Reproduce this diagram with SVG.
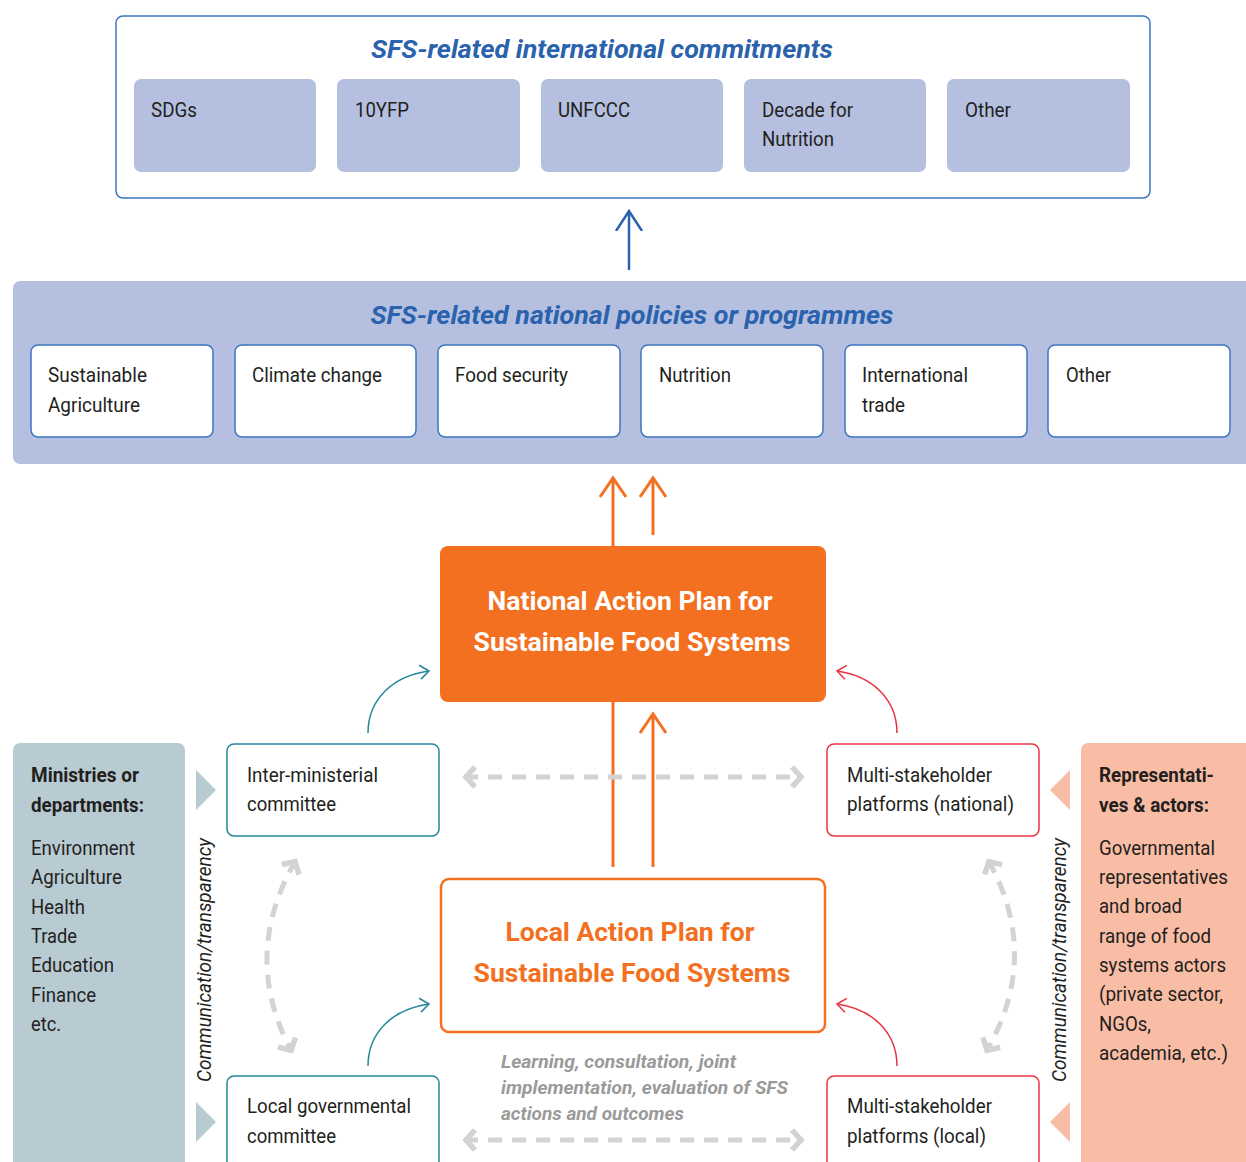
<svg xmlns="http://www.w3.org/2000/svg" width="1246" height="1162" viewBox="0 0 1246 1162">
<style>
.t{font-family:"Roboto","Liberation Sans",sans-serif;font-size:21px;fill:#231f20}
.tb{font-family:"Roboto","Liberation Sans",sans-serif;font-size:21px;font-weight:700;fill:#231f20}
.ttl{font-family:"Roboto","Liberation Sans",sans-serif;font-size:26px;font-weight:700;font-style:italic;fill:#2a62ad}
.big{font-family:"Roboto","Liberation Sans",sans-serif;font-size:26px;font-weight:700}
.vert{font-family:"Roboto","Liberation Sans",sans-serif;font-size:20px;font-style:italic;fill:#231f20}
.note{font-family:"Roboto","Liberation Sans",sans-serif;font-size:19px;font-weight:700;font-style:italic;fill:#9a9a9a}
.lil{fill:#b5c0e0}
.wbox{fill:#fff;stroke:#3d74c0;stroke-width:1.5}
.teal{fill:#fff;stroke:#23879a;stroke-width:1.5}
.red{fill:#fff;stroke:#e8333f;stroke-width:1.5}
.dash{fill:none;stroke:#d3d3d3;stroke-width:5;stroke-dasharray:14 10}
</style>
<defs>
<marker id="ab" markerUnits="userSpaceOnUse" markerWidth="40" markerHeight="40" viewBox="-20 -20 40 40" refX="0" refY="0" orient="auto"><path d="M-20,-13 L0,0 L-20,13" fill="none" stroke="#2a62ad" stroke-width="2.5"/></marker>
<marker id="ao" markerUnits="userSpaceOnUse" markerWidth="40" markerHeight="40" viewBox="-20 -20 40 40" refX="0" refY="0" orient="auto"><path d="M-19,-13 L0,0 L-19,13" fill="none" stroke="#f37021" stroke-width="3"/></marker>
<marker id="at" markerUnits="userSpaceOnUse" markerWidth="24" markerHeight="24" viewBox="-12 -12 24 24" refX="0" refY="0" orient="auto"><path d="M-9,-7 L0,0 L-9,7" fill="none" stroke="#23879a" stroke-width="1.5"/></marker>
<marker id="ar" markerUnits="userSpaceOnUse" markerWidth="24" markerHeight="24" viewBox="-12 -12 24 24" refX="0" refY="0" orient="auto"><path d="M-9,-7 L0,0 L-9,7" fill="none" stroke="#e8333f" stroke-width="1.5"/></marker>
<marker id="ag" markerUnits="userSpaceOnUse" markerWidth="30" markerHeight="30" viewBox="-15 -15 30 30" refX="0" refY="0" orient="auto-start-reverse"><path d="M-11,-10 L-2,0 L-11,10" fill="none" stroke="#d3d3d3" stroke-width="5.5"/></marker>
</defs>

<g id="international">
<rect x="116" y="16" width="1034" height="182" rx="7" fill="#fff" stroke="#3d74c0" stroke-width="1.5"/>
<text class="ttl" x="602" y="58" text-anchor="middle" textLength="462" lengthAdjust="spacingAndGlyphs">SFS-related international commitments</text>
</g>
<g id="sdgs"><rect class="lil" x="134" y="79" width="182" height="93" rx="7"/><text class="t" x="151" y="117" textLength="46" lengthAdjust="spacingAndGlyphs">SDGs</text></g>
<g id="yfp"><rect class="lil" x="337" y="79" width="183" height="93" rx="7"/><text class="t" x="355" y="117" textLength="54" lengthAdjust="spacingAndGlyphs">10YFP</text></g>
<g id="unfccc"><rect class="lil" x="541" y="79" width="182" height="93" rx="7"/><text class="t" x="558" y="117" textLength="72" lengthAdjust="spacingAndGlyphs">UNFCCC</text></g>
<g id="decade"><rect class="lil" x="744" y="79" width="182" height="93" rx="7"/><text class="t" x="762" y="117" textLength="91" lengthAdjust="spacingAndGlyphs">Decade for</text><text class="t" x="762" y="146" textLength="72" lengthAdjust="spacingAndGlyphs">Nutrition</text></g>
<g id="other1"><rect class="lil" x="947" y="79" width="183" height="93" rx="7"/><text class="t" x="965" y="117" textLength="46" lengthAdjust="spacingAndGlyphs">Other</text></g>

<g id="national">
<rect class="lil" x="13" y="281" width="1250" height="183" rx="7"/>
<text class="ttl" x="632" y="324" text-anchor="middle" textLength="523" lengthAdjust="spacingAndGlyphs">SFS-related national policies or programmes</text>
</g>
<g id="sustag"><rect class="wbox" x="31" y="345" width="182" height="92" rx="7"/><text class="t" x="48" y="382" textLength="99" lengthAdjust="spacingAndGlyphs">Sustainable</text><text class="t" x="48" y="412" textLength="92" lengthAdjust="spacingAndGlyphs">Agriculture</text></g>
<g id="climate"><rect class="wbox" x="235" y="345" width="181" height="92" rx="7"/><text class="t" x="252" y="382" textLength="130" lengthAdjust="spacingAndGlyphs">Climate change</text></g>
<g id="foodsec"><rect class="wbox" x="438" y="345" width="182" height="92" rx="7"/><text class="t" x="455" y="382" textLength="113" lengthAdjust="spacingAndGlyphs">Food security</text></g>
<g id="nutrition"><rect class="wbox" x="641" y="345" width="182" height="92" rx="7"/><text class="t" x="659" y="382" textLength="72" lengthAdjust="spacingAndGlyphs">Nutrition</text></g>
<g id="trade"><rect class="wbox" x="845" y="345" width="182" height="92" rx="7"/><text class="t" x="862" y="382" textLength="106" lengthAdjust="spacingAndGlyphs">International</text><text class="t" x="862" y="412" textLength="43" lengthAdjust="spacingAndGlyphs">trade</text></g>
<g id="other2"><rect class="wbox" x="1048" y="345" width="182" height="92" rx="7"/><text class="t" x="1066" y="382" textLength="45" lengthAdjust="spacingAndGlyphs">Other</text></g>

<g id="nap">
<rect x="440" y="546" width="386" height="156" rx="8" fill="#f37021"/>
<text class="big" x="630" y="610" text-anchor="middle" fill="#fff" textLength="285" lengthAdjust="spacingAndGlyphs">National Action Plan for</text>
<text class="big" x="632" y="651" text-anchor="middle" fill="#fff" textLength="317" lengthAdjust="spacingAndGlyphs">Sustainable Food Systems</text>
</g>

<g id="lap">
<rect x="441" y="879" width="384" height="153" rx="8" fill="#fff" stroke="#f37021" stroke-width="2.5"/>
<text class="big" x="630" y="941" text-anchor="middle" fill="#f37021" textLength="249" lengthAdjust="spacingAndGlyphs">Local Action Plan for</text>
<text class="big" x="632" y="982" text-anchor="middle" fill="#f37021" textLength="317" lengthAdjust="spacingAndGlyphs">Sustainable Food Systems</text>
</g>

<g id="ministries">
<rect x="13" y="743" width="172" height="440" rx="7" fill="#b8cbd3"/>
<text class="tb" x="31" y="782" textLength="108" lengthAdjust="spacingAndGlyphs">Ministries or</text>
<text class="tb" x="31" y="812" textLength="113" lengthAdjust="spacingAndGlyphs">departments:</text>
<text class="t" x="31" y="855" textLength="104" lengthAdjust="spacingAndGlyphs">Environment</text>
<text class="t" x="31" y="884" textLength="91" lengthAdjust="spacingAndGlyphs">Agriculture</text>
<text class="t" x="31" y="914" textLength="54" lengthAdjust="spacingAndGlyphs">Health</text>
<text class="t" x="31" y="943" textLength="46" lengthAdjust="spacingAndGlyphs">Trade</text>
<text class="t" x="31" y="972" textLength="83" lengthAdjust="spacingAndGlyphs">Education</text>
<text class="t" x="31" y="1002" textLength="65" lengthAdjust="spacingAndGlyphs">Finance</text>
<text class="t" x="31" y="1031" textLength="30" lengthAdjust="spacingAndGlyphs">etc.</text>
<polygon points="196,770 216,790 196,810" fill="#b8cbd3"/>
<polygon points="196,1102 216,1122 196,1142" fill="#b8cbd3"/>
<text class="vert" transform="translate(211,960) rotate(-90)" text-anchor="middle" textLength="244" lengthAdjust="spacingAndGlyphs">Communication/transparency</text>
</g>

<g id="representatives">
<rect x="1081" y="743" width="180" height="440" rx="7" fill="#f9bda5"/>
<text class="tb" x="1099" y="782" textLength="115" lengthAdjust="spacingAndGlyphs">Representati-</text>
<text class="tb" x="1099" y="812" textLength="110" lengthAdjust="spacingAndGlyphs">ves &amp; actors:</text>
<text class="t" x="1099" y="855" textLength="116" lengthAdjust="spacingAndGlyphs">Governmental</text>
<text class="t" x="1099" y="884" textLength="129" lengthAdjust="spacingAndGlyphs">representatives</text>
<text class="t" x="1099" y="913" textLength="83" lengthAdjust="spacingAndGlyphs">and broad</text>
<text class="t" x="1099" y="943" textLength="112" lengthAdjust="spacingAndGlyphs">range of food</text>
<text class="t" x="1099" y="972" textLength="127" lengthAdjust="spacingAndGlyphs">systems actors</text>
<text class="t" x="1099" y="1001" textLength="124" lengthAdjust="spacingAndGlyphs">(private sector,</text>
<text class="t" x="1099" y="1031" textLength="52" lengthAdjust="spacingAndGlyphs">NGOs,</text>
<text class="t" x="1099" y="1060" textLength="129" lengthAdjust="spacingAndGlyphs">academia, etc.)</text>
<polygon points="1070,770 1050,790 1070,810" fill="#f9bda5"/>
<polygon points="1070,1102 1050,1122 1070,1142" fill="#f9bda5"/>
<text class="vert" transform="translate(1066,960) rotate(-90)" text-anchor="middle" textLength="244" lengthAdjust="spacingAndGlyphs">Communication/transparency</text>
</g>

<g id="intermin"><rect class="teal" x="227" y="744" width="212" height="92" rx="7"/><text class="t" x="247" y="782" textLength="131" lengthAdjust="spacingAndGlyphs">Inter-ministerial</text><text class="t" x="247" y="811" textLength="89" lengthAdjust="spacingAndGlyphs">committee</text></g>
<g id="localgov"><rect class="teal" x="227" y="1076" width="212" height="110" rx="7"/><text class="t" x="247" y="1113" textLength="164" lengthAdjust="spacingAndGlyphs">Local governmental</text><text class="t" x="247" y="1143" textLength="89" lengthAdjust="spacingAndGlyphs">committee</text></g>
<g id="msnational"><rect class="red" x="827" y="744" width="212" height="92" rx="7"/><text class="t" x="847" y="782" textLength="145" lengthAdjust="spacingAndGlyphs">Multi-stakeholder</text><text class="t" x="847" y="811" textLength="167" lengthAdjust="spacingAndGlyphs">platforms (national)</text></g>
<g id="mslocal"><rect class="red" x="827" y="1076" width="212" height="110" rx="7"/><text class="t" x="847" y="1113" textLength="145" lengthAdjust="spacingAndGlyphs">Multi-stakeholder</text><text class="t" x="847" y="1143" textLength="139" lengthAdjust="spacingAndGlyphs">platforms (local)</text></g>

<g id="note">
<text class="note" x="501" y="1068" textLength="235" lengthAdjust="spacingAndGlyphs">Learning, consultation, joint</text>
<text class="note" x="501" y="1094" textLength="287" lengthAdjust="spacingAndGlyphs">implementation, evaluation of SFS</text>
<text class="note" x="501" y="1120" textLength="183" lengthAdjust="spacingAndGlyphs">actions and outcomes</text>
</g>

<g id="connectors">
<line x1="629" y1="270" x2="629" y2="211" stroke="#2a62ad" stroke-width="2.5" marker-end="url(#ab)"/>
<line x1="613" y1="546" x2="613" y2="478" stroke="#f37021" stroke-width="3" marker-end="url(#ao)"/>
<line x1="653" y1="535" x2="653" y2="478" stroke="#f37021" stroke-width="3" marker-end="url(#ao)"/>
<line x1="613" y1="702" x2="613" y2="867" stroke="#f37021" stroke-width="3"/>
<line x1="653" y1="867" x2="653" y2="714" stroke="#f37021" stroke-width="3" marker-end="url(#ao)"/>
<path d="M368,733 C368,700 392,676 429,671" fill="none" stroke="#23879a" stroke-width="1.5" marker-end="url(#at)"/>
<path d="M368,1066 C368,1033 392,1009 429,1004" fill="none" stroke="#23879a" stroke-width="1.5" marker-end="url(#at)"/>
<path d="M897,733 C897,700 873,676 837,671" fill="none" stroke="#e8333f" stroke-width="1.5" marker-end="url(#ar)"/>
<path d="M897,1066 C897,1033 873,1009 837,1004" fill="none" stroke="#e8333f" stroke-width="1.5" marker-end="url(#ar)"/>
<path class="dash" d="M464,777 L803,777" marker-start="url(#ag)" marker-end="url(#ag)"/>
<path class="dash" d="M464,1140 L803,1140" marker-start="url(#ag)" marker-end="url(#ag)"/>
<path class="dash" d="M296,860 Q240,956 292,1052" marker-start="url(#ag)" marker-end="url(#ag)"/>
<path class="dash" d="M988,860 Q1042,956 986,1052" marker-start="url(#ag)" marker-end="url(#ag)"/>
</g>
</svg>
